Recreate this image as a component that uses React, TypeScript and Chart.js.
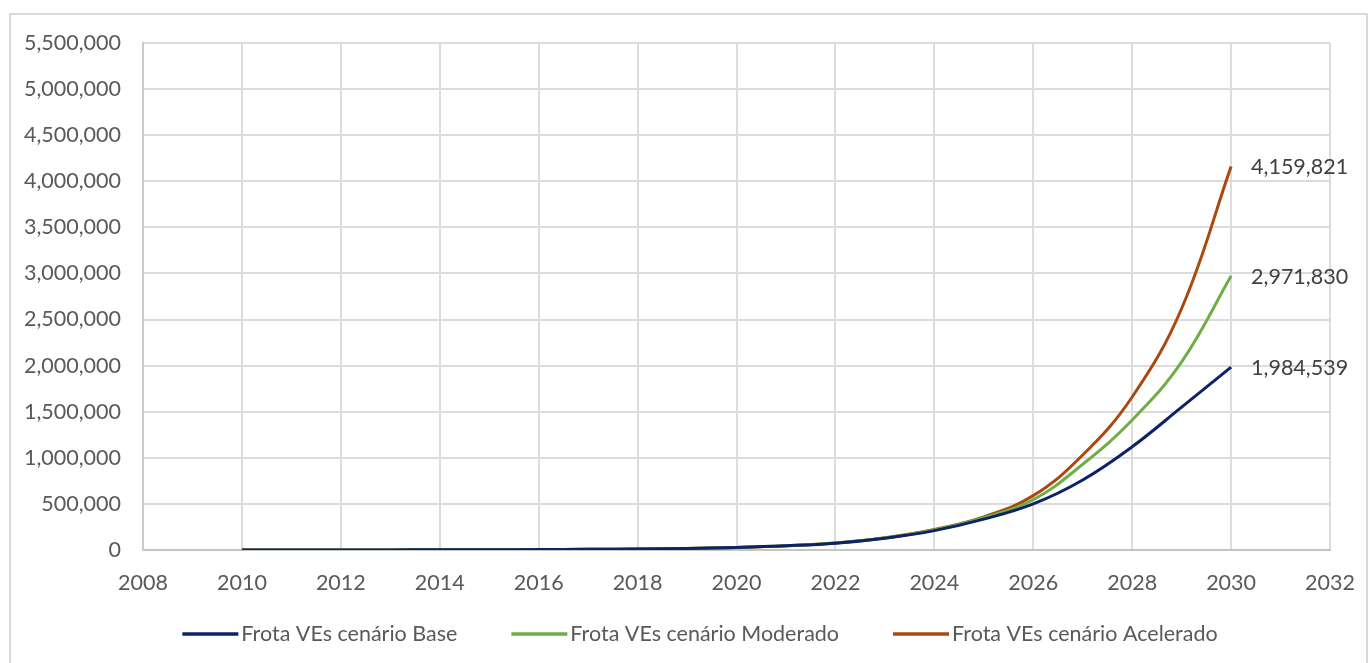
import React, { useEffect, useRef } from "react";
import { Chart, registerables } from "chart.js";

Chart.register(...registerables);

// Frota de veículos elétricos por cenário, 2010–2030
const years = [
  2010, 2011, 2012, 2013, 2014, 2015, 2016, 2017, 2018, 2019, 2020,
  2021, 2022, 2023, 2024, 2025, 2026, 2027, 2028, 2029, 2030,
];

const frotaBase = [
  300, 500, 800, 1300, 2000, 3000, 4500, 7000, 11000, 17000, 28000,
  46000, 74000, 128000, 210000, 335000, 500000, 760000, 1120000, 1550000, 1984539,
];

const frotaModerado = [
  300, 500, 800, 1300, 2000, 3000, 4500, 7000, 11000, 17000, 28000,
  46000, 75000, 130000, 217000, 350000, 545000, 930000, 1410000, 2040000, 2971830,
];

const frotaAcelerado = [
  300, 500, 800, 1300, 2000, 3000, 4500, 7000, 11000, 17000, 28000,
  46000, 76000, 132000, 222000, 360000, 590000, 1030000, 1660000, 2620000, 4159821,
];

const seriesNames = [
  "Frota VEs cenário Base",
  "Frota VEs cenário Moderado",
  "Frota VEs cenário Acelerado",
];
const seriesColors = ["#0C2366", "#70AD47", "#A9480F"];

const FONT = "Lato, 'Liberation Sans', sans-serif";
const FONT_SIZE = 21.5;
const TEXT = "#595959";

const fmt = (v: number) => v.toLocaleString("en-US");

// Writes the final value of each series just right of its last point
const endLabels = {
  id: "endLabels",
  afterDatasetsDraw(chart: any) {
    const ctx = chart.ctx;
    ctx.save();
    ctx.font = `${FONT_SIZE}px ${FONT}`;
    ctx.fillStyle = "#404040";
    ctx.textAlign = "left";
    ctx.textBaseline = "middle";
    chart.data.datasets.forEach((ds: any, i: number) => {
      const meta = chart.getDatasetMeta(i);
      const last = meta.data[meta.data.length - 1];
      const val = ds.data[ds.data.length - 1].y;
      ctx.fillText(fmt(val), last.x + 20, last.y + 1);
    });
    ctx.restore();
  },
};

// Legend row under the axis: a short line sample followed by the series name
const lineLegend = {
  id: "lineLegend",
  afterDraw(chart: any) {
    const ctx = chart.ctx;
    const sample = 56;
    const gap = 3;
    const spacing = 54;
    ctx.save();
    ctx.font = `${FONT_SIZE}px ${FONT}`;
    const items = chart.data.datasets.map((ds: any) => ({
      text: ds.label,
      color: ds.borderColor,
      w: ctx.measureText(ds.label).width,
    }));
    const total =
      items.reduce((s: number, it: any) => s + sample + gap + it.w, 0) +
      spacing * (items.length - 1);
    const cy = chart.chartArea.bottom + 84;
    let x = 700 - total / 2;
    ctx.textAlign = "left";
    ctx.textBaseline = "middle";
    items.forEach((it: any) => {
      ctx.strokeStyle = it.color;
      ctx.lineWidth = 3.5;
      ctx.beginPath();
      ctx.moveTo(x, cy);
      ctx.lineTo(x + sample, cy);
      ctx.stroke();
      ctx.fillStyle = TEXT;
      ctx.fillText(it.text, x + sample + gap, cy);
      x += sample + gap + it.w + spacing;
    });
    ctx.restore();
  },
};

export default function App() {
  const ref = useRef<HTMLCanvasElement>(null);

  useEffect(() => {
    if (!ref.current) return;
    const all = [frotaBase, frotaModerado, frotaAcelerado];
    const chart = new Chart(ref.current, {
      type: "line",
      data: {
        datasets: all.map((vals, i) => ({
          label: seriesNames[i],
          data: years.map((y, k) => ({ x: y, y: vals[k] })),
          borderColor: seriesColors[i],
          backgroundColor: seriesColors[i],
          borderWidth: 3,
          pointRadius: 0,
          tension: 0.4,
          fill: false,
        })),
      },
      options: {
        responsive: false,
        animation: false,
        layout: { padding: { left: 0, right: 0, top: 43, bottom: 73 } },
        plugins: {
          tooltip: { enabled: false },
          legend: { display: false },
        },
        scales: {
          x: {
            type: "linear",
            min: 2008,
            max: 2032,
            ticks: {
              stepSize: 2,
              color: TEXT,
              font: { family: FONT, size: FONT_SIZE },
              padding: 20,
              callback: (v: any) => String(v),
            },
            grid: { color: "#DCDCDC", lineWidth: 2, drawTicks: false },
            border: { color: "#C4C4C4", width: 2 },
            afterFit: (s: any) => {
              s.height = 40;
              s.paddingLeft = 0;
              s.paddingRight = 0;
            },
          },
          y: {
            min: 0,
            max: 5500000,
            ticks: {
              stepSize: 500000,
              color: TEXT,
              font: { family: FONT, size: FONT_SIZE },
              padding: 22,
              callback: (v: any) => fmt(Number(v)),
            },
            grid: { color: "#DCDCDC", lineWidth: 2, drawTicks: false },
            border: { color: "#CACACA", width: 2 },
            afterFit: (s: any) => {
              s.width = 143;
            },
          },
          yRight: {
            position: "right",
            display: true,
            grid: { display: false, drawTicks: false },
            border: { display: false },
            ticks: { display: false },
            afterFit: (s: any) => {
              s.width = 40;
            },
          },
        },
      },
      plugins: [endLabels, lineLegend],
    });
    return () => chart.destroy();
  }, []);

  return (
    <div
      style={{
        position: "fixed",
        left: 0,
        top: 0,
        width: 1370,
        height: 663,
        background: "#fff",
      }}
    >
      <canvas ref={ref} width={1370} height={663} style={{ display: "block" }} />
      <div
        style={{
          position: "absolute",
          left: 9,
          top: 13,
          width: 1355,
          height: 660,
          border: "2px solid #D9D9D9",
          pointerEvents: "none",
        }}
      />
    </div>
  );
}
